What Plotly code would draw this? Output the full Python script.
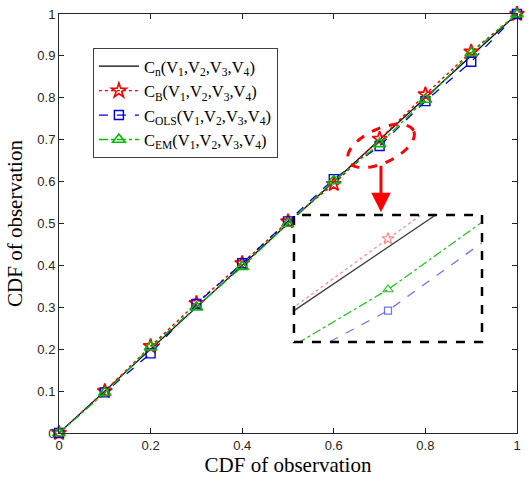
import numpy as np
import plotly.graph_objects as go

# ---- data ----
x_vals = [0.0, 0.1, 0.2, 0.3, 0.4, 0.5, 0.6, 0.7, 0.8, 0.9, 1.0]
c_n = [0.0, 0.1, 0.2, 0.3, 0.4, 0.5, 0.6, 0.7, 0.8, 0.9, 1.0]
c_b = [0.0, 0.100, 0.207, 0.310, 0.405, 0.505, 0.594, 0.702, 0.808, 0.910, 1.0]
c_ols = [0.0, 0.097, 0.190, 0.308, 0.405, 0.505, 0.606, 0.685, 0.792, 0.886, 1.0]
c_em = [0.0, 0.096, 0.205, 0.300, 0.397, 0.500, 0.602, 0.690, 0.796, 0.907, 1.0]

names = [
    "C<sub>n</sub>(V<sub>1</sub>,V<sub>2</sub>,V<sub>3</sub>,V<sub>4</sub>)",
    "C<sub>B</sub>(V<sub>1</sub>,V<sub>2</sub>,V<sub>3</sub>,V<sub>4</sub>)",
    "C<sub>OLS</sub>(V<sub>1</sub>,V<sub>2</sub>,V<sub>3</sub>,V<sub>4</sub>)",
    "C<sub>EM</sub>(V<sub>1</sub>,V<sub>2</sub>,V<sub>3</sub>,V<sub>4</sub>)",
]
x_ticks = [0, 0.2, 0.4, 0.6, 0.8, 1]
x_tick_text = ["0", "0.2", "0.4", "0.6", "0.8", "1"]
y_ticks = [0, 0.1, 0.2, 0.3, 0.4, 0.5, 0.6, 0.7, 0.8, 0.9, 1]
y_tick_text = ["0", "0.1", "0.2", "0.3", "0.4", "0.5", "0.6", "0.7", "0.8", "0.9", "1"]
zoom_x = 0.7  # point magnified in the inset

series = [
    (c_n, names[0], dict(color="#000000", width=1.2, dash="solid"), None),
    (c_b, names[1], dict(color="#ff0000", width=1.4, dash="dot"),
     dict(symbol="star-open", size=11, color="#ff0000", line=dict(width=1.7))),
    (c_ols, names[2], dict(color="#0000dd", width=1.3, dash="dash"),
     dict(symbol="square-open", size=9, color="#0000dd", line=dict(width=1.4))),
    (c_em, names[3], dict(color="#00bb00", width=1.3, dash="dashdot"),
     dict(symbol="triangle-up-open", size=11, color="#00bb00", line=dict(width=1.6))),
]

fig = go.Figure()
for ys, nm, ln, mk in series:
    fig.add_trace(go.Scatter(
        x=x_vals, y=ys, name=nm, mode="lines" if mk is None else "lines+markers",
        line=ln, marker=mk, xaxis="x", yaxis="y", cliponaxis=False))

# inset traces (same data, zoomed)
inset_op = [0.75, 0.45, 0.55, 0.85]
for (ys, nm, ln, mk), op in zip(series, inset_op):
    ln2 = dict(ln)
    ln2["width"] = 1.3
    mk2 = None
    if mk is not None:
        mk2 = dict(mk)
        mk2["size"] = mk["size"] - 2
        mk2["line"] = dict(width=1.2)
    fig.add_trace(go.Scatter(
        x=x_vals, y=ys, mode="lines" if mk is None else "lines+markers",
        line=ln2, marker=mk2, opacity=op, showlegend=False,
        xaxis="x2", yaxis="y2", cliponaxis=True))

tick_font = dict(family="Liberation Sans, Arial", size=13, color="#262626")
title_font = dict(family="Liberation Serif, Times New Roman", size=21, color="#000000")

fig.update_layout(
    width=531, height=484,
    margin=dict(l=59, r=14, t=14, b=51),
    paper_bgcolor="white", plot_bgcolor="white",
    xaxis=dict(range=[0, 1], tickvals=x_ticks, ticktext=x_tick_text,
               ticks="inside", ticklen=5, tickcolor="#262626", automargin=False,
               showline=True, linecolor="#262626", linewidth=1, mirror="ticks",
               showgrid=False, zeroline=False, tickfont=tick_font,
               title=dict(text="CDF of observation", font=title_font, standoff=4)),
    yaxis=dict(range=[0, 1], tickvals=y_ticks, ticktext=y_tick_text,
               ticks="inside", ticklen=5, tickcolor="#262626", automargin=False,
               showline=True, linecolor="#262626", linewidth=1, mirror="ticks",
               showgrid=False, zeroline=False, tickfont=tick_font,
               title=dict(text="CDF of observation", font=title_font, standoff=8)),
    xaxis2=dict(domain=[0.513, 0.9236], range=[zoom_x - 0.015, zoom_x + 0.015],
                anchor="y2", showticklabels=False, ticks="", showgrid=False,
                zeroline=False, showline=False, automargin=False),
    yaxis2=dict(domain=[0.2172, 0.5203], range=[0.6776, 0.7076],
                anchor="x2", showticklabels=False, ticks="", showgrid=False,
                zeroline=False, showline=False, automargin=False),
    legend=dict(x=0.074, y=0.919, xanchor="left", yanchor="top",
                bgcolor="white", bordercolor="#404040", borderwidth=1,
                font=dict(family="Liberation Serif, Times New Roman", size=16.5, color="#000"),
                tracegroupgap=0, itemwidth=40),
    showlegend=True,
)

# inset border
fig.add_shape(type="rect", xref="x2 domain", yref="y2 domain", x0=0, x1=1, y0=0, y1=1,
              line=dict(color="black", width=2.5, dash="dash"), layer="above")

# dashed red ellipse around the zoomed point (pixel-based geometry)
px_x, px_y = 458.0, 419.0
t = np.linspace(0, 2 * np.pi, 61)
a, b, ang = 36.0, 17.0, np.deg2rad(25)
ex = a * np.cos(t) * np.cos(ang) - b * np.sin(t) * np.sin(ang)
ey = a * np.cos(t) * np.sin(ang) + b * np.sin(t) * np.cos(ang)
cx, cy = 0.703, 0.685
pts = [(cx + dx / px_x, cy + dy / px_y) for dx, dy in zip(ex, ey)]
path = "M " + " L ".join(f"{p[0]:.5f},{p[1]:.5f}" for p in pts) + " Z"
fig.add_shape(type="path", path=path, xref="x", yref="y",
              line=dict(color="#ff0000", width=3, dash="dash"))

# arrow from ellipse to inset
fig.add_annotation(x=0.703, y=0.527, xref="x", yref="y", ax=0, ay=-48,
                   showarrow=True, arrowhead=2, arrowsize=1.3, arrowwidth=3,
                   arrowcolor="#ff0000", text="")

fig.write_html("out.html", config={"displayModeBar": False},
               post_script="document.body.style.margin='0px';")
